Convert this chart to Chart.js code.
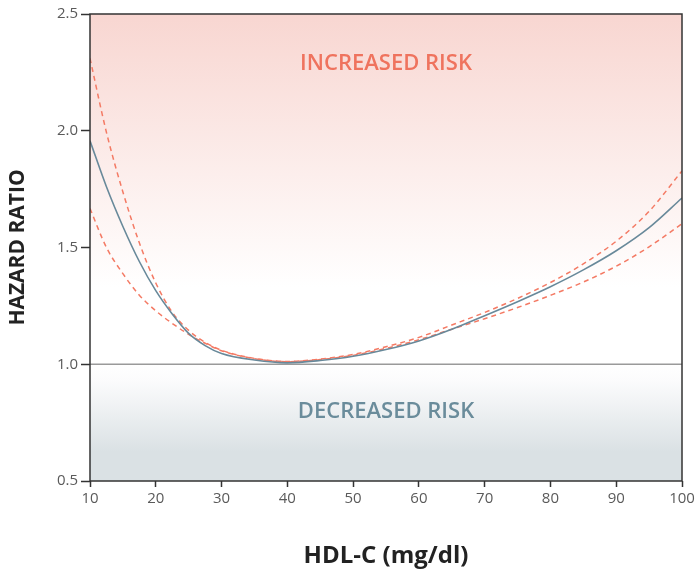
<!DOCTYPE html>
<html lang="en">
<head>
    <meta charset="UTF-8">
    <title>Hazard ratio by HDL-C</title>
    <script src="https://cdn.jsdelivr.net/npm/chart.js"></script>
    <style>
        body {
            margin: 0;
            background: #ffffff;
        }
        #wrap {
            width: 698px;
            height: 573px;
        }
    </style>
</head>
<body>
    <div id="wrap">
        <canvas id="hdlChart" width="698" height="573"></canvas>
    </div>

    <script>
        // HDL-C values (mg/dl) and hazard ratios
        const hdl = [10, 12.5, 15, 17.5, 20, 22.5, 25, 27.5, 30, 35, 40, 45, 50, 55, 60, 65, 70, 75, 80, 85, 90, 95, 100];
        const hazard = [1.957, 1.76, 1.59, 1.44, 1.315, 1.215, 1.132, 1.08, 1.046, 1.018, 1.006, 1.016, 1.034, 1.063, 1.100, 1.150, 1.208, 1.268, 1.332, 1.404, 1.486, 1.585, 1.712];
        const upperCI = [2.31, 1.993, 1.738, 1.52, 1.348, 1.223, 1.145, 1.094, 1.06, 1.025, 1.012, 1.022, 1.042, 1.075, 1.115, 1.168, 1.222, 1.282, 1.35, 1.43, 1.527, 1.655, 1.828];
        const lowerCI = [1.667, 1.50, 1.388, 1.296, 1.229, 1.175, 1.128, 1.09, 1.058, 1.024, 1.011, 1.02, 1.038, 1.068, 1.105, 1.15, 1.195, 1.243, 1.295, 1.352, 1.42, 1.503, 1.602];
        const xTicks = [10, 20, 30, 40, 50, 60, 70, 80, 90, 100];
        const yTicks = [0.5, 1.0, 1.5, 2.0, 2.5];

        const toPoints = (ys) => hdl.map((x, i) => ({ x: x, y: ys[i] }));

        // shaded risk zones, the axis box and the zone labels
        const zonesPlugin = {
            id: "zones",
            beforeDatasetsDraw(chart) {
                const { ctx, chartArea: a, scales: { y } } = chart;
                const y1 = y.getPixelForValue(1.0);

                let g = ctx.createLinearGradient(0, a.top, 0, y1);
                g.addColorStop(0, "#f8d6d1");
                g.addColorStop(0.78, "#ffffff");
                g.addColorStop(1, "#ffffff");
                ctx.save();
                ctx.fillStyle = g;
                ctx.fillRect(a.left, a.top, a.right - a.left, y1 - a.top);

                g = ctx.createLinearGradient(0, y1, 0, a.bottom);
                g.addColorStop(0, "#ffffff");
                g.addColorStop(0.15, "#fbfbfc");
                g.addColorStop(0.75, "#dae1e4");
                g.addColorStop(1, "#dae1e4");
                ctx.fillStyle = g;
                ctx.fillRect(a.left, y1, a.right - a.left, a.bottom - y1);

                // reference line at HR = 1.0
                ctx.strokeStyle = "#9a9a9a";
                ctx.lineWidth = 1.5;
                ctx.beginPath();
                ctx.moveTo(a.left, y1);
                ctx.lineTo(a.right, y1);
                ctx.stroke();

                ctx.font = "600 22px 'Open Sans'";
                ctx.textAlign = "center";
                ctx.textBaseline = "middle";
                const cx = chart.scales.x.getPixelForValue(55);
                ctx.fillStyle = "#ef735e";
                ctx.fillText("INCREASED RISK", cx, y.getPixelForValue(2.287));
                ctx.fillStyle = "#6a8c9b";
                ctx.fillText("DECREASED RISK", cx, y.getPixelForValue(0.796));
                ctx.restore();
            },
            afterDraw(chart) {
                const { ctx, chartArea: a } = chart;
                ctx.save();
                ctx.strokeStyle = "#333333";
                ctx.lineWidth = 1.5;
                ctx.strokeRect(a.left, a.top, a.right - a.left, a.bottom - a.top);
                ctx.restore();
            }
        };

        new Chart(document.getElementById("hdlChart"), {
            type: "line",
            data: {
                datasets: [
                    {
                        label: "Hazard ratio",
                        data: toPoints(hazard),
                        borderColor: "#68899a",
                        borderWidth: 1.6,
                        pointRadius: 0,
                        cubicInterpolationMode: "monotone"
                    },
                    {
                        label: "Upper 95% CI",
                        data: toPoints(upperCI),
                        borderColor: "#f47a64",
                        borderWidth: 1.5,
                        borderDash: [5, 4],
                        pointRadius: 0,
                        cubicInterpolationMode: "monotone"
                    },
                    {
                        label: "Lower 95% CI",
                        data: toPoints(lowerCI),
                        borderColor: "#f47a64",
                        borderWidth: 1.5,
                        borderDash: [5, 4],
                        pointRadius: 0,
                        cubicInterpolationMode: "monotone"
                    }
                ]
            },
            options: {
                responsive: false,
                animation: false,
                layout: { padding: { top: 14, right: 16, left: 0, bottom: 0 } },
                plugins: {
                    legend: { display: false },
                    tooltip: { enabled: false }
                },
                scales: {
                    x: {
                        type: "linear",
                        min: 10,
                        max: 100,
                        afterBuildTicks: (s) => { s.ticks = xTicks.map(v => ({ value: v })); },
                        afterFit: (s) => { s.height = 92; },
                        border: { display: false },
                        grid: {
                            drawOnChartArea: false,
                            tickLength: 6,
                            tickColor: "#333333",
                            tickWidth: 1.5
                        },
                        ticks: {
                            color: "#5a5a5a",
                            padding: 3,
                            maxRotation: 0,
                            font: { family: "'Open Sans'", size: 15 }
                        },
                        title: {
                            display: true,
                            text: "HDL-C (mg/dl)",
                            color: "#222222",
                            padding: { bottom: 2 },
                            font: { family: "'Open Sans'", size: 24, weight: "bold" }
                        }
                    },
                    y: {
                        min: 0.5,
                        max: 2.5,
                        afterBuildTicks: (s) => { s.ticks = yTicks.map(v => ({ value: v })); },
                        afterFit: (s) => { s.width = 90; },
                        border: { display: false },
                        grid: {
                            drawOnChartArea: false,
                            tickLength: 9,
                            tickColor: "#333333",
                            tickWidth: 1.5
                        },
                        ticks: {
                            color: "#5a5a5a",
                            padding: 3,
                            callback: (v) => v.toFixed(1),
                            font: { family: "'Open Sans'", size: 15 }
                        },
                        title: {
                            display: true,
                            text: "HAZARD RATIO",
                            color: "#222222",
                            padding: { top: 5 },
                            font: { family: "'Open Sans'", size: 21, weight: "bold" }
                        }
                    }
                }
            },
            plugins: [zonesPlugin]
        });
    </script>
</body>
</html>
